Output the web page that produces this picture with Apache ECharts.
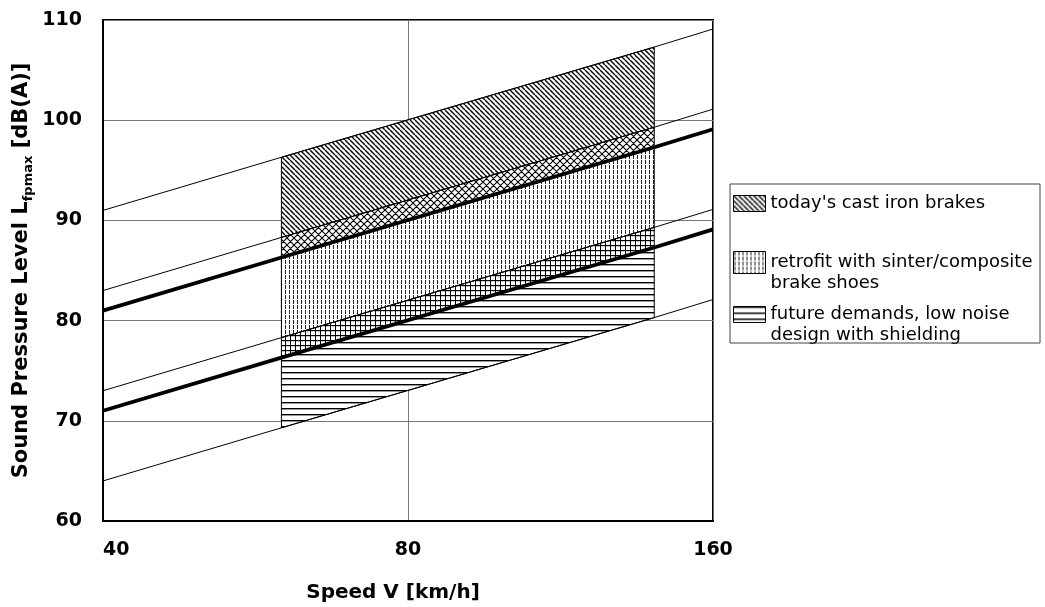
<!DOCTYPE html>
<html><head><meta charset="utf-8">
<script src="https://cdn.jsdelivr.net/npm/echarts@6/dist/echarts.min.js"></script>
<style>html,body{margin:0;padding:0;background:#fff}#c{width:1045px;height:607px}</style>
</head><body><div id="c"></div>
<script>
// speeds (km/h) at which each line is read: 40, 60 (box start), 140 (box end), 160
const speeds = [40, 60, 140, 160];
const xTicks = [40, 80, 160];
const yMin = 60, yMax = 110, yStep = 10;
// line levels (dB(A)) at the speeds above
const lineTopThin     = [91, 96.3, 107.3, 109.1];
const lineUpperThin   = [83, 88.3, 99.3, 101.1];
const lineUpperThick  = [81, 86.3, 97.3, 99.1];
const lineLowerThin   = [73, 78.3, 89.3, 91.1];
const lineLowerThick  = [71, 76.3, 87.3, 89.1];
const lineBottomThin  = [64, 69.3, 80.3, 82.1];
const legendNames = [
  "today's cast iron brakes",
  "retrofit with sinter/composite\nbrake shoes",
  "future demands, low noise\ndesign with shielding"
];

function makePattern(w, h, draw) {
  const c = document.createElement('canvas');
  c.width = w; c.height = h;
  const ctx = c.getContext('2d');
  ctx.fillStyle = '#fff'; ctx.fillRect(0, 0, w, h);
  ctx.strokeStyle = '#000'; ctx.fillStyle = '#000';
  draw(ctx, w, h);
  return { image: c, repeat: 'repeat' };
}
const patDiag = makePattern(5, 5, (ctx, w, h) => {
  ctx.lineWidth = 1.4;
  ctx.beginPath();
  for (let k = -1; k <= 1; k++) { ctx.moveTo(k * w, 0); ctx.lineTo(k * w + w, h); }
  ctx.stroke();
});
const patCross = makePattern(7, 7, (ctx, w, h) => {
  ctx.lineWidth = 1.1;
  ctx.beginPath();
  for (let k = -1; k <= 1; k++) {
    ctx.moveTo(k * w, 0); ctx.lineTo(k * w + w, h);
    ctx.moveTo(k * w + w, 0); ctx.lineTo(k * w, h);
  }
  ctx.stroke();
});
const patVert = makePattern(4, 5, (ctx) => {
  ctx.fillStyle = '#222';
  ctx.fillRect(1, 0, 1, 4);
});
const patGrid = makePattern(5, 5, (ctx) => {
  ctx.fillRect(0, 0, 1, 5);
  ctx.fillRect(0, 0, 5, 1.2);
});
const patHoriz = makePattern(6, 6, (ctx) => {
  ctx.fillRect(0, 0, 6, 1.4);
});

const bands = [
  { name: legendNames[0], lo: lineUpperThin, hi: lineTopThin, pat: patDiag },
  { name: 'overlap-1', lo: lineUpperThick, hi: lineUpperThin, pat: patCross },
  { name: legendNames[1], lo: lineLowerThin, hi: lineUpperThick, pat: patVert },
  { name: 'overlap-2', lo: lineLowerThick, hi: lineLowerThin, pat: patGrid },
  { name: legendNames[2], lo: lineBottomThin, hi: lineLowerThick, pat: patHoriz }
];

const bandSeries = bands.map(b => ({
  type: 'custom',
  name: b.name,
  z: 2,
  itemStyle: { color: b.pat, borderColor: '#000', borderWidth: 1 },
  encode: { x: [0, 3], y: [1, 2, 4, 5] },
  data: [[speeds[1], b.lo[1], b.hi[1], speeds[2], b.lo[2], b.hi[2]]],
  renderItem: function (params, api) {
    const pts = [
      api.coord([api.value(0), api.value(1)]),
      api.coord([api.value(3), api.value(4)]),
      api.coord([api.value(3), api.value(5)]),
      api.coord([api.value(0), api.value(2)])
    ];
    return { type: 'polygon', shape: { points: pts }, style: { fill: b.pat, stroke: '#000', lineWidth: 1 } };
  }
}));

const lines = [
  { d: lineTopThin, w: 1 }, { d: lineUpperThin, w: 1 }, { d: lineUpperThick, w: 3.8 },
  { d: lineLowerThin, w: 1 }, { d: lineLowerThick, w: 3.8 }, { d: lineBottomThin, w: 1 }
];
const lineSeries = lines.map((l, i) => ({
  type: 'line', name: 'line' + i, z: 5, symbol: 'none', silent: true,
  lineStyle: { color: '#000', width: l.w },
  data: speeds.map((s, j) => [s, l.d[j]])
}));

const legTxt = { fontFamily: 'DejaVu Sans', fontSize: 18, color: '#000', lineHeight: 21 };
function leg(idx, top, h) {
  return {
    left: 733, top: top, padding: 0, itemWidth: 32, itemHeight: h, itemGap: 0,
    selectedMode: false,
    textStyle: legTxt,
    // an empty first line keeps the icon level with the first text line
    formatter: name => (name.indexOf('\n') >= 0 ? '\n' + name : name),
    data: [{ name: legendNames[idx], icon: 'rect', itemStyle: { color: bands[idx * 2].pat, borderColor: '#000', borderWidth: 1 } }]
  };
}

const chart = echarts.init(document.getElementById('c'), null, { renderer: 'canvas' });
chart.setOption({
  animation: false,
  backgroundColor: '#fff',
  grid: { left: 103, top: 20, right: 332, bottom: 86, outerBoundsMode: 'none', show: true, borderColor: '#000', borderWidth: 2, backgroundColor: 'transparent' },
  legend: [leg(0, 193, 16), leg(1, 231, 22), leg(2, 283, 16)],
  graphic: [{ type: 'rect', shape: { x: 730, y: 184, width: 310, height: 159 }, style: { fill: 'none', stroke: '#444', lineWidth: 1 }, z: 100 }],
  xAxis: {
    type: 'log', logBase: 2, min: xTicks[0], max: xTicks[xTicks.length - 1],
    name: 'Speed V [km/h]', nameLocation: 'middle', nameGap: 62, nameMoveOverlap: false,
    nameTextStyle: { fontFamily: 'DejaVu Sans', fontWeight: 'bold', fontSize: 20, color: '#000', padding: [0, 30, 0, 0] },
    axisLine: { lineStyle: { color: '#000', width: 2 } },
    axisTick: { show: false, customValues: xTicks },
    axisLabel: { customValues: xTicks, fontFamily: 'DejaVu Sans', fontWeight: 'bold', fontSize: 19, color: '#000', margin: 20, alignMinLabel: 'left' },
    splitLine: { show: true, lineStyle: { color: '#777', width: 1 } }
  },
  yAxis: {
    type: 'value', min: yMin, max: yMax, interval: yStep,
    name: '{a|Sound Pressure Level L}{b|fpmax}{a| [dB(A)]}', nameLocation: 'middle', nameGap: 68, nameMoveOverlap: false,
    nameTextStyle: {
      color: '#000',
      rich: {
        a: { fontFamily: 'DejaVu Sans', fontWeight: 'bold', fontSize: 21, lineHeight: 26, color: '#000' },
        b: { fontFamily: 'DejaVu Sans', fontWeight: 'bold', fontSize: 13, lineHeight: 26, verticalAlign: 'bottom', color: '#000' }
      }
    },
    axisLine: { show: true, lineStyle: { color: '#000', width: 2 } },
    axisTick: { show: false },
    axisLabel: { fontFamily: 'DejaVu Sans', fontWeight: 'bold', fontSize: 19, color: '#000', margin: 21 },
    splitLine: { show: true, lineStyle: { color: '#777', width: 1 } }
  },
  series: bandSeries.concat(lineSeries)
});
</script></body></html>
